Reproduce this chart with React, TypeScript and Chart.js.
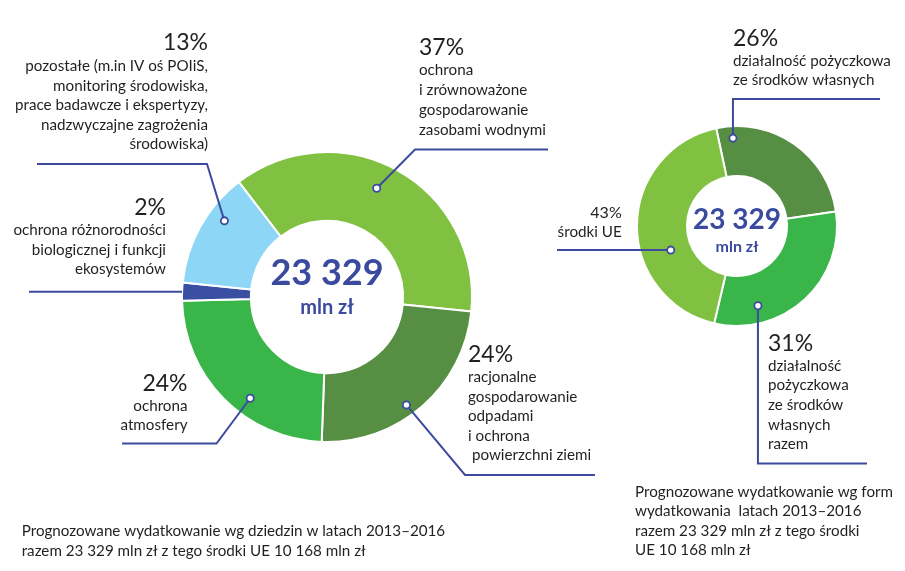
import React, { useEffect, useRef } from "react";
import { Chart, registerables } from "chart.js";

Chart.register(...registerables);

// ---------- DATA ----------
const domainCategories = [
  "ochrona i zrównoważone gospodarowanie zasobami wodnymi",
  "racjonalne gospodarowanie odpadami i ochrona powierzchni ziemi",
  "ochrona atmosfery",
  "ochrona różnorodności biologicznej i funkcji ekosystemów",
  "pozostałe",
];
const domainValues = [37, 24, 24, 2, 13];
const domainTexts = [
  ["ochrona", "i zrównoważone", "gospodarowanie", "zasobami wodnymi"],
  ["racjonalne", "gospodarowanie", "odpadami", "i ochrona", " powierzchni ziemi"],
  ["ochrona", "atmosfery"],
  ["ochrona różnorodności", "biologicznej i funkcji", "ekosystemów"],
  [
    "pozostałe (m.in IV oś POIiS,",
    "monitoring środowiska,",
    "prace badawcze i ekspertyzy,",
    "nadzwyczajne zagrożenia",
    "środowiska)",
  ],
];

const formCategories = [
  "działalność pożyczkowa ze środków własnych",
  "działalność pożyczkowa ze środków własnych razem",
  "środki UE",
];
const formValues = [26, 31, 43];
const formTexts = [
  ["działalność pożyczkowa", "ze środków własnych"],
  ["działalność", "pożyczkowa", "ze środków", "własnych", "razem"],
  ["środki UE"],
];

const totalLabel = "23 329";
const unitLabel = "mln zł";

const leftCaption = [
  "Prognozowane wydatkowanie wg dziedzin w latach 2013–2016",
  "razem 23 329 mln zł z tego środki UE 10 168 mln zł",
];
const rightCaption = [
  "Prognozowane wydatkowanie wg form",
  "wydatkowania  latach 2013–2016",
  "razem 23 329 mln zł z tego środki",
  "UE 10 168 mln zł",
];

// ---------- STYLE ----------
const LIGHT_GREEN = "#80C142";
const DARK_GREEN = "#568F43";
const GREEN = "#39B54A";
const NAVY = "#3B4FA2";
const SKY = "#8DD6F6";
const LINE = "#3C4B9E";
const TEXT = "#231F20";
const CENTER_BLUE = "#3A4A9E";
const FONT = "Lato, 'Open Sans', sans-serif";

const domainColors = [LIGHT_GREEN, DARK_GREEN, GREEN, NAVY, SKY];
const formColors = [DARK_GREEN, GREEN, LIGHT_GREEN];

type Pt = [number | null, number | null];
type Anno = {
  frac: number;
  rfrac: number;
  dot: boolean;
  path: Pt[];
  x: number;
  align: CanvasTextAlign;
  pctY: number;
  pctSize: number;
  lineY: number;
  step: number;
  textSize: number;
};

const leftAnnos: Anno[] = [
  { frac: 0.466, rfrac: 0.63, dot: true, path: [[415, 149.5], [548, 149.5]], x: 419, align: "left", pctY: 55, pctSize: 23, lineY: 75, step: 20, textSize: 15.2 },
  { frac: 0.555, rfrac: 0.84, dot: true, path: [[465, 475], [595, 475]], x: 468, align: "left", pctY: 362, pctSize: 23, lineY: 382, step: 19.6, textSize: 15.2 },
  { frac: 0.406, rfrac: 0.74, dot: true, path: [[216.5, 443.5], [122, 443.5]], x: 187.5, align: "right", pctY: 391, pctSize: 23, lineY: 410.5, step: 19, textSize: 15.2 },
  { frac: 0.5, rfrac: 1.0, dot: false, path: [[29, null]], x: 166, align: "right", pctY: 215, pctSize: 23, lineY: 235, step: 19.6, textSize: 15.2 },
  { frac: 0.66, rfrac: 0.75, dot: true, path: [[207, 164], [37, 164]], x: 208, align: "right", pctY: 49.5, pctSize: 23, lineY: 71, step: 19.6, textSize: 15.2 },
];

const rightAnnos: Anno[] = [
  { frac: 0.1, rfrac: 0.76, dot: true, path: [[null, 99], [880, 99]], x: 733, align: "left", pctY: 46, pctSize: 23, lineY: 65.7, step: 19.5, textSize: 15.2 },
  { frac: 0.75, rfrac: 0.65, dot: true, path: [[null, 463.5], [867, 463.5]], x: 768, align: "left", pctY: 350.7, pctSize: 23, lineY: 370.7, step: 19.6, textSize: 15.2 },
  { frac: 0.367, rfrac: 0.41, dot: true, path: [[557, null]], x: 621.7, align: "right", pctY: 217.7, pctSize: 16, lineY: 237.3, step: 20, textSize: 15.2 },
];

function makePlugin(
  annos: Anno[],
  texts: string[][],
  values: number[],
  center: { big: number; small: number; bigDy: number; smallDy: number },
  caption: { lines: string[]; x: number; y: number; step: number; size: number }
) {
  return {
    id: "annos",
    afterDraw(chart: any) {
      const ctx: CanvasRenderingContext2D = chart.ctx;
      const meta = chart.getDatasetMeta(0);
      ctx.save();
      let cx = 0;
      let cy = 0;
      annos.forEach((a, i) => {
        const arc = meta.data[i];
        if (!arc) return;
        const p = arc.getProps(["x", "y", "startAngle", "endAngle", "innerRadius", "outerRadius"], true);
        cx = p.x;
        cy = p.y;
        const ang = p.startAngle + a.frac * (p.endAngle - p.startAngle);
        const r = p.innerRadius + a.rfrac * (p.outerRadius - p.innerRadius);
        const dx = p.x + r * Math.cos(ang);
        const dy = p.y + r * Math.sin(ang);
        // leader
        ctx.strokeStyle = LINE;
        ctx.lineWidth = 2;
        ctx.lineJoin = "miter";
        ctx.beginPath();
        ctx.moveTo(dx, dy);
        a.path.forEach(([px, py]) => {
          ctx.lineTo(px === null ? dx : px, py === null ? dy : py);
        });
        ctx.stroke();
        if (a.dot) {
          ctx.beginPath();
          ctx.arc(dx, dy, 3.6, 0, Math.PI * 2);
          ctx.fillStyle = "#ffffff";
          ctx.fill();
          ctx.lineWidth = 1.8;
          ctx.stroke();
        }
        // text
        ctx.fillStyle = TEXT;
        ctx.textAlign = a.align;
        ctx.textBaseline = "alphabetic";
        ctx.font = `400 ${a.pctSize}px ${FONT}`;
        ctx.fillText(`${values[i]}%`, a.x, a.pctY);
        ctx.font = `400 ${a.textSize}px ${FONT}`;
        texts[i].forEach((t, k) => ctx.fillText(t, a.x, a.lineY + k * a.step));
      });
      // center
      ctx.fillStyle = CENTER_BLUE;
      ctx.textAlign = "center";
      ctx.font = `700 ${center.big}px ${FONT}`;
      ctx.fillText(totalLabel, cx, cy + center.bigDy);
      ctx.font = `700 ${center.small}px ${FONT}`;
      ctx.fillText(unitLabel, cx, cy + center.smallDy);
      // caption
      ctx.fillStyle = TEXT;
      ctx.textAlign = "left";
      ctx.font = `400 ${caption.size}px ${FONT}`;
      caption.lines.forEach((t, k) => ctx.fillText(t, caption.x, caption.y + k * caption.step));
      ctx.restore();
    },
  };
}

function makeChart(
  canvas: HTMLCanvasElement,
  labels: string[],
  values: number[],
  colors: string[],
  rotation: number,
  cutout: string,
  padding: { left: number; right: number; top: number; bottom: number },
  plugin: any
) {
  return new Chart(canvas, {
    type: "doughnut",
    data: {
      labels,
      datasets: [
        {
          data: values,
          backgroundColor: colors,
          borderColor: "#ffffff",
          borderWidth: 2,
        },
      ],
    },
    options: {
      responsive: false,
      animation: false,
      events: [],
      rotation,
      cutout,
      layout: { padding },
      plugins: { legend: { display: false }, tooltip: { enabled: false } },
    },
    plugins: [plugin],
  });
}

export default function App() {
  const leftRef = useRef<HTMLCanvasElement>(null);
  const rightRef = useRef<HTMLCanvasElement>(null);

  useEffect(() => {
    if (!leftRef.current || !rightRef.current) return;
    const left = makeChart(
      leftRef.current,
      domainCategories,
      domainValues,
      domainColors,
      -37.5,
      "52.5%",
      { left: 181, right: 432, top: 151, bottom: 128 },
      makePlugin(leftAnnos, domainTexts, domainValues, { big: 36, small: 20, bigDy: -12, smallDy: 17 }, { lines: leftCaption, x: 21.7, y: 535.7, step: 19.8, size: 15.2 })
    );
    const right = makeChart(
      rightRef.current,
      formCategories,
      formValues,
      formColors,
      -12,
      "50%",
      { left: 636, right: 67, top: 125, bottom: 244 },
      makePlugin(rightAnnos, formTexts, formValues, { big: 28, small: 16, bigDy: 3, smallDy: 25.5 }, { lines: rightCaption, x: 635, y: 496.7, step: 19.5, size: 15.2 })
    );
    const fonts: any = (document as any).fonts;
    if (fonts && fonts.load) {
      Promise.all([fonts.load(`400 16px Lato`), fonts.load(`700 16px Lato`)]).then(() => {
        left.draw();
        right.draw();
      }).catch(() => {});
    }
    return () => {
      left.destroy();
      right.destroy();
    };
  }, []);

  const style: React.CSSProperties = { position: "absolute", left: 0, top: 0 };
  return (
    <div style={{ position: "absolute", left: 0, top: 0, width: 905, height: 571, background: "#ffffff" }}>
      <canvas ref={leftRef} width={905} height={571} style={style} />
      <canvas ref={rightRef} width={905} height={571} style={style} />
    </div>
  );
}
